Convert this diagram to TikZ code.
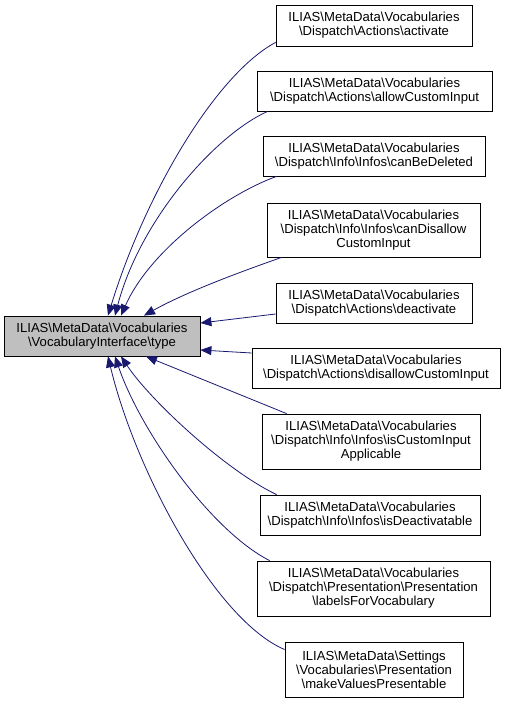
\documentclass[tikz,border=0pt]{standalone}
\usepackage{fontspec}
\setmainfont{Liberation Sans}
\usetikzlibrary{arrows.meta,calc}
\definecolor{navyedge}{HTML}{191970}
\definecolor{graybox}{HTML}{BFBFBF}
\newcommand\bks{\textbackslash}
\begin{document}
\begin{tikzpicture}[x=1pt,y=-1pt,
  box/.style={draw=black,line width=0.8pt,fill=white,inner sep=0pt,align=center,
    font=\fontsize{13.1}{14}\selectfont},
  edge/.style={draw=navyedge,line width=0.8pt,-{Triangle[length=11pt,width=9pt,fill=navyedge]}}]
\useasboundingbox (0,0) rectangle (505,702);
\node[box,fill=graybox,minimum width=196pt,minimum height=40pt] (L) at (102,336)
  {ILIAS\bks MetaData\bks Vocabularies\\\bks VocabularyInterface\bks type};
\node[box,minimum width=196pt,minimum height=41pt] (n1) at (374,25.5)
  {ILIAS\bks MetaData\bks Vocabularies\\\bks Dispatch\bks Actions\bks activate};
\node[box,minimum width=235pt,minimum height=40pt] (n2) at (374.5,91)
  {ILIAS\bks MetaData\bks Vocabularies\\\bks Dispatch\bks Actions\bks allowCustomInput};
\node[box,minimum width=222pt,minimum height=40pt] (n3) at (374,156)
  {ILIAS\bks MetaData\bks Vocabularies\\\bks Dispatch\bks Info\bks Infos\bks canBeDeleted};
\node[box,minimum width=213pt,minimum height=54pt] (n4) at (373.5,230)
  {ILIAS\bks MetaData\bks Vocabularies\\\bks Dispatch\bks Info\bks Infos\bks canDisallow\\CustomInput};
\node[box,minimum width=196pt,minimum height=40pt] (n5) at (374,303)
  {ILIAS\bks MetaData\bks Vocabularies\\\bks Dispatch\bks Actions\bks deactivate};
\node[box,minimum width=248pt,minimum height=40pt] (n6) at (376,368)
  {ILIAS\bks MetaData\bks Vocabularies\\\bks Dispatch\bks Actions\bks disallowCustomInput};
\node[box,minimum width=218pt,minimum height=55pt] (n7) at (371,441.5)
  {ILIAS\bks MetaData\bks Vocabularies\\\bks Dispatch\bks Info\bks Infos\bks isCustomInput\\Applicable};
\node[box,minimum width=220pt,minimum height=40pt] (n8) at (370,515)
  {ILIAS\bks MetaData\bks Vocabularies\\\bks Dispatch\bks Info\bks Infos\bks isDeactivatable};
\node[box,minimum width=233pt,minimum height=55pt] (n9) at (373.5,588.5)
  {ILIAS\bks MetaData\bks Vocabularies\\\bks Dispatch\bks Presentation\bks Presentation\\\bks labelsForVocabulary};
\node[box,minimum width=178pt,minimum height=55pt] (n10) at (374,669.5)
  {ILIAS\bks MetaData\bks Settings\\\bks Vocabularies\bks Presentation\\\bks makeValuesPresentable};
% edges
\draw[edge] ($(n1.south west)+(0,-4)$) .. controls (215,75) and (145,195) .. ($(L.north)+(6,0)$);
\draw[edge] ($(n2.south west)+(11,0)$) .. controls (215,135) and (140,220) .. ($(L.north)+(13,0)$);
\draw[edge] ($(n3.south west)+(14,0)$) .. controls (225,195) and (150,250) .. ($(L.north)+(19,0)$);
\draw[edge] ($(n4.south west)+(15,0)$) .. controls (240,272) and (186,292) .. ($(L.north)+(42,0)$);
\draw[edge] ($(n5.west)+(0,11)$) -- ($(L.east)+(0,-13)$);
\draw[edge] ($(n6.west)+(0,-15)$) -- ($(L.east)+(0,14)$);
\draw[edge] ($(n7.north west)+(25,0)$) -- ($(L.south)+(44,0)$);
\draw[edge] ($(n8.north west)+(17,0)$) .. controls (225,470) and (150,400) .. ($(L.south)+(19,0)$);
\draw[edge] ($(n9.north west)+(13,0)$) .. controls (210,530) and (140,430) .. ($(L.south)+(13,0)$);
\draw[edge] ($(n10.west)+(0,-20)$) .. controls (215,620) and (135,470) .. ($(L.south)+(6,0)$);
\end{tikzpicture}
\end{document}
